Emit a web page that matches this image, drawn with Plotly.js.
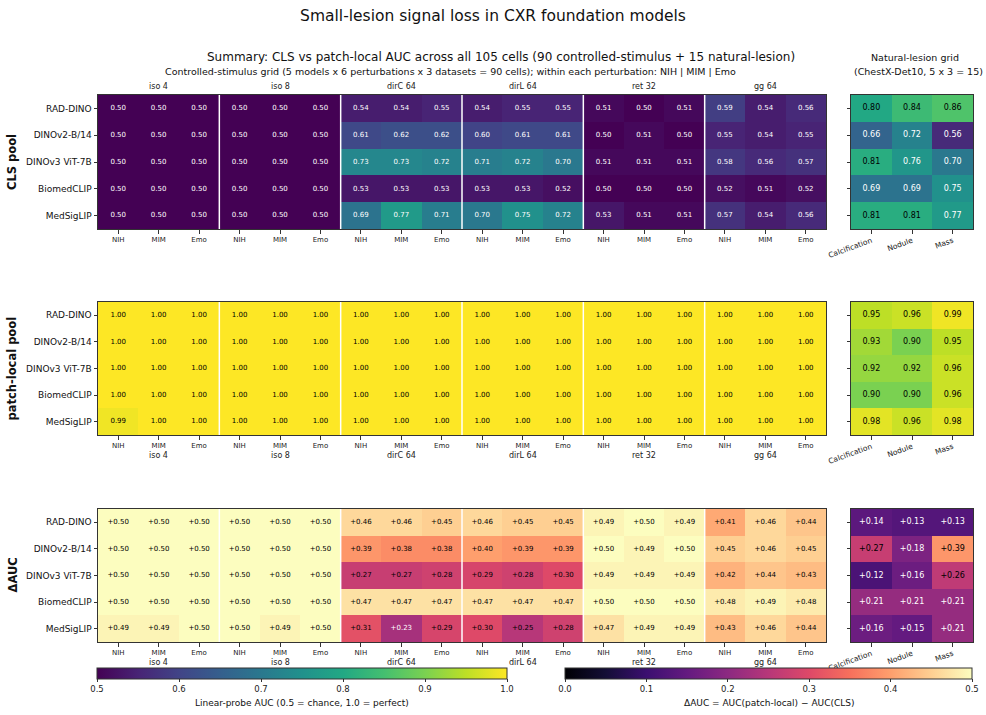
<!DOCTYPE html>
<html>
<head>
<meta charset="utf-8">
<script src="https://cdn.plot.ly/plotly-3.0.1.min.js"></script>
<style>html,body{margin:0;padding:0;background:#fff}#chart{width:986px;height:715px}</style>
</head>
<body>
<div id="chart"></div>
<script>
// ---------------- data ----------------
const models = ['RAD-DINO', 'DINOv2-B/14', 'DINOv3 ViT-7B', 'BiomedCLIP', 'MedSigLIP'];
const perturbations = ['iso 4', 'iso 8', 'dirC 64', 'dirL 64', 'ret 32', 'gg 64'];
const datasets = ['NIH', 'MIM', 'Emo'];
const lesions = ['Calcification', 'Nodule', 'Mass'];

// controlled-stimulus grid, columns = perturbation x dataset
const clsAUC = [
  [0.50,0.50,0.50, 0.50,0.50,0.50, 0.54,0.54,0.55, 0.54,0.55,0.55, 0.51,0.50,0.51, 0.59,0.54,0.56],
  [0.50,0.50,0.50, 0.50,0.50,0.50, 0.61,0.62,0.62, 0.60,0.61,0.61, 0.50,0.51,0.50, 0.55,0.54,0.55],
  [0.50,0.50,0.50, 0.50,0.50,0.50, 0.73,0.73,0.72, 0.71,0.72,0.70, 0.51,0.51,0.51, 0.58,0.56,0.57],
  [0.50,0.50,0.50, 0.50,0.50,0.50, 0.53,0.53,0.53, 0.53,0.53,0.52, 0.50,0.50,0.50, 0.52,0.51,0.52],
  [0.50,0.50,0.50, 0.50,0.50,0.50, 0.69,0.77,0.71, 0.70,0.75,0.72, 0.53,0.51,0.51, 0.57,0.54,0.56]
];
const patchAUC = [
  [1.00,1.00,1.00, 1.00,1.00,1.00, 1.00,1.00,1.00, 1.00,1.00,1.00, 1.00,1.00,1.00, 1.00,1.00,1.00],
  [1.00,1.00,1.00, 1.00,1.00,1.00, 1.00,1.00,1.00, 1.00,1.00,1.00, 1.00,1.00,1.00, 1.00,1.00,1.00],
  [1.00,1.00,1.00, 1.00,1.00,1.00, 1.00,1.00,1.00, 1.00,1.00,1.00, 1.00,1.00,1.00, 1.00,1.00,1.00],
  [1.00,1.00,1.00, 1.00,1.00,1.00, 1.00,1.00,1.00, 1.00,1.00,1.00, 1.00,1.00,1.00, 1.00,1.00,1.00],
  [0.99,1.00,1.00, 1.00,1.00,1.00, 1.00,1.00,1.00, 1.00,1.00,1.00, 1.00,1.00,1.00, 1.00,1.00,1.00]
];
const deltaAUC = [
  [0.50,0.50,0.50, 0.50,0.50,0.50, 0.46,0.46,0.45, 0.46,0.45,0.45, 0.49,0.50,0.49, 0.41,0.46,0.44],
  [0.50,0.50,0.50, 0.50,0.50,0.50, 0.39,0.38,0.38, 0.40,0.39,0.39, 0.50,0.49,0.50, 0.45,0.46,0.45],
  [0.50,0.50,0.50, 0.50,0.50,0.50, 0.27,0.27,0.28, 0.29,0.28,0.30, 0.49,0.49,0.49, 0.42,0.44,0.43],
  [0.50,0.50,0.50, 0.50,0.50,0.50, 0.47,0.47,0.47, 0.47,0.47,0.47, 0.50,0.50,0.50, 0.48,0.49,0.48],
  [0.49,0.49,0.50, 0.50,0.49,0.50, 0.31,0.23,0.29, 0.30,0.25,0.28, 0.47,0.49,0.49, 0.43,0.46,0.44]
];
// natural-lesion grid (ChestX-Det10)
const natCLS = [
  [0.80,0.84,0.86],
  [0.66,0.72,0.56],
  [0.81,0.76,0.70],
  [0.69,0.69,0.75],
  [0.81,0.81,0.77]
];
const natPatch = [
  [0.95,0.96,0.99],
  [0.93,0.90,0.95],
  [0.92,0.92,0.96],
  [0.90,0.90,0.96],
  [0.98,0.96,0.98]
];
const natDelta = [
  [0.14,0.13,0.13],
  [0.27,0.18,0.39],
  [0.12,0.16,0.26],
  [0.21,0.21,0.21],
  [0.16,0.15,0.21]
];

// ---------------- styling ----------------
const W = 986, H = 715;
const FONT = 'DejaVu Sans, Liberation Sans, sans-serif';
const viridis = [[0,'#440154'],[0.1,'#482475'],[0.2,'#414487'],[0.3,'#355f8d'],[0.4,'#2a788e'],[0.5,'#21918c'],[0.6,'#22a884'],[0.7,'#44bf70'],[0.8,'#7ad151'],[0.9,'#bddf26'],[1,'#fde725']];
const magma = [[0,'#000004'],[0.1,'#140e36'],[0.2,'#3b0f70'],[0.3,'#641a80'],[0.4,'#8c2981'],[0.5,'#b73779'],[0.6,'#de4968'],[0.7,'#f7705c'],[0.8,'#fe9f6d'],[0.9,'#fecf92'],[1,'#fcfdbf']];

const px = v => v / W;
const py = v => 1 - v / H;

// column indices
const cols = [];
perturbations.forEach((p, pi) => datasets.forEach((d, di) => cols.push(pi * datasets.length + di)));
const colTicks = cols.map(i => datasets[i % datasets.length]);

// panel geometry (pixels)
const mainX = [98, 826], natX = [851, 973];
const rowsY = [[95, 229], [302, 435], [509, 642]];

const traces = [];
function heat(z, xs, ax, scale, zmin, zmax, cb) {
  const t = {type:'heatmap', z:z, x:xs, y:models, xaxis:'x'+ax, yaxis:'y'+ax,
    colorscale:scale, zmin:zmin, zmax:zmax, showscale:!!cb, hoverinfo:'skip'};
  if (cb) t.colorbar = cb;
  traces.push(t);
}
function labels(z, xs, ax, thr, plus, size) {
  const x = [], y = [], text = [], color = [];
  z.forEach((row, ri) => row.forEach((v, ci) => {
    x.push(xs[ci]); y.push(models[ri]);
    text.push((plus ? '+' : '') + v.toFixed(2));
    color.push(v >= thr ? '#000000' : '#ffffff');
  }));
  traces.push({type:'scatter', mode:'text', x:x, y:y, text:text, xaxis:'x'+ax, yaxis:'y'+ax,
    textfont:{family:FONT, size:size, color:color}, hoverinfo:'skip', showlegend:false, cliponaxis:false});
}

const cbCommon = {orientation:'h', xanchor:'center', yanchor:'top', y:py(668), lenmode:'fraction',
  thickness:11, thicknessmode:'pixels', xpad:0, ypad:0, outlinewidth:1, outlinecolor:'#333',
  ticks:'outside', ticklen:3, tickcolor:'#333', tickwidth:1, tickformat:'.1f',
  tickfont:{family:FONT, size:8.5, color:'#222'}};
const cbAUC = Object.assign({}, cbCommon, {x:px(302), len:410/W, tickvals:[0.5,0.6,0.7,0.8,0.9,1.0]});
const cbDelta = Object.assign({}, cbCommon, {x:px(768.5), len:407/W, tickvals:[0,0.1,0.2,0.3,0.4,0.5]});

// row 1: CLS
heat(clsAUC, cols, '', viridis, 0.5, 1.0, cbAUC);
labels(clsAUC, cols, '', 0.78, false, 7);
heat(natCLS, lesions, '2', viridis, 0.5, 1.0, null);
labels(natCLS, lesions, '2', 0.78, false, 8);
// row 2: patch-local
heat(patchAUC, cols, '3', viridis, 0.5, 1.0, null);
labels(patchAUC, cols, '3', 0.78, false, 7);
heat(natPatch, lesions, '4', viridis, 0.5, 1.0, null);
labels(natPatch, lesions, '4', 0.78, false, 8);
// row 3: delta
heat(deltaAUC, cols, '5', magma, 0.0, 0.5, cbDelta);
labels(deltaAUC, cols, '5', 0.24, true, 7);
heat(natDelta, lesions, '6', magma, 0.0, 0.5, null);
labels(natDelta, lesions, '6', 0.24, true, 8);

// axes
function baseAx(domain, extra) {
  return Object.assign({domain:domain, showline:true, mirror:true, linecolor:'#333', linewidth:1,
    ticks:'outside', ticklen:3.5, tickcolor:'#333', tickwidth:1, showgrid:false, zeroline:false,
    automargin:false, fixedrange:true}, extra);
}
const layout = {
  width:W, height:H, margin:{l:0, r:0, t:0, b:0}, paper_bgcolor:'#fff', plot_bgcolor:'#fff',
  font:{family:FONT, color:'#222'}, showlegend:false,
  title:{text:'Small-lesion signal loss in CXR foundation models', x:0.5, xanchor:'center',
    y:py(16), yanchor:'middle', font:{family:FONT, size:15.5, color:'#111'}},
  annotations:[], shapes:[]
};
const idx = ['', '2', '3', '4', '5', '6'];
idx.forEach((s, k) => {
  const isMain = k % 2 === 0;
  const r = rowsY[Math.floor(k / 2)];
  const xd = isMain ? mainX : natX;
  const xa = 'xaxis' + s, ya = 'yaxis' + s;
  if (isMain) {
    layout[xa] = baseAx([px(xd[0]), px(xd[1])], {anchor:'y'+s, range:[-0.5, cols.length - 0.5],
      tickmode:'array', tickvals:cols, ticktext:colTicks, tickfont:{family:FONT, size:7, color:'#222'}});
  } else {
    layout[xa] = baseAx([px(xd[0]), px(xd[1])], {anchor:'y'+s, type:'category', range:[-0.5, lesions.length - 0.5],
      tickangle:-20, tickfont:{family:FONT, size:7.5, color:'#222'}});
  }
  layout[ya] = baseAx([py(r[1]), py(r[0])], {anchor:'x'+s, type:'category', range:[models.length - 0.5, -0.5],
    showticklabels:isMain, tickfont:{family:FONT, size:9, color:'#111'}});
  if (isMain) {
    for (let pi = 1; pi < perturbations.length; pi++) {
      layout.shapes.push({type:'line', xref:'x'+s, yref:'y'+s+' domain', x0:pi*3-0.5, x1:pi*3-0.5, y0:0, y1:1,
        line:{color:'#ffffff', width:1.5}});
    }
  }
});

// perturbation group labels
const groupY = [86, 455, 662];
groupY.forEach((gy, gi) => {
  const s = idx[gi * 2];
  perturbations.forEach((p, pi) => {
    layout.annotations.push({text:p, xref:'x'+s, yref:'paper', x:pi*3+1, y:py(gy), xanchor:'center', yanchor:'middle',
      showarrow:false, font:{family:FONT, size:8, color:'#222'}});
  });
});

// row titles
[['CLS pool', 162], ['patch-local pool', 368.5], ['ΔAUC', 575.5]].forEach(([t, yy]) => {
  layout.annotations.push({text:'<b>' + t + '</b>', xref:'paper', yref:'paper', x:px(12), y:py(yy), textangle:-90,
    xanchor:'center', yanchor:'middle', showarrow:false, font:{family:FONT, size:11.5, color:'#111'}});
});

// headers
const txt = (t, x, y, size) => layout.annotations.push({text:t, xref:'paper', yref:'paper', x:px(x), y:py(y),
  xanchor:'center', yanchor:'middle', showarrow:false, font:{family:FONT, size:size, color:'#111'}});
txt('Summary: CLS vs patch-local AUC across all 105 cells (90 controlled-stimulus + 15 natural-lesion)', 501, 57, 12);
txt('Controlled-stimulus grid (5 models x 6 perturbations x 3 datasets = 90 cells); within each perturbation: NIH | MIM | Emo', 450.5, 71, 9.5);
txt('Natural-lesion grid', 915, 57, 9.5);
txt('(ChestX-Det10, 5 x 3 = 15)', 918, 71, 9.5);
// colorbar titles
txt('Linear-probe AUC (0.5 = chance, 1.0 = perfect)', 302, 703, 9);
txt('ΔAUC = AUC(patch-local) − AUC(CLS)', 768.5, 703, 9);

Plotly.newPlot('chart', traces, layout, {staticPlot:true, displayModeBar:false});
</script>
</body>
</html>
